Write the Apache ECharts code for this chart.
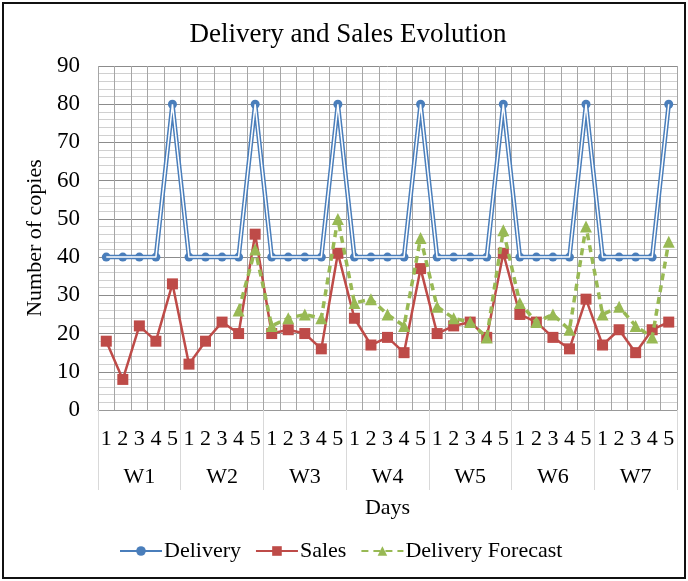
<!DOCTYPE html>
<html><head><meta charset="utf-8">
<script src="https://cdn.jsdelivr.net/npm/echarts@6/dist/echarts.min.js"></script>
<style>html,body{margin:0;padding:0;background:#fff}#c{width:688px;height:581px}</style>
</head><body><div id="c"></div>
<script>
const days = ['1','2','3','4','5','1','2','3','4','5','1','2','3','4','5','1','2','3','4','5','1','2','3','4','5','1','2','3','4','5','1','2','3','4','5'];
const weeks = ['W1','W2','W3','W4','W5','W6','W7'];
const delivery = [40,40,40,40,80, 40,40,40,40,80, 40,40,40,40,80, 40,40,40,40,80, 40,40,40,40,80, 40,40,40,40,80, 40,40,40,40,80];
const sales = [18,8,22,18,33, 12,18,23,20,46, 20,21,20,16,41, 24,17,19,15,37, 20,22,23,19,41, 25,23,19,16,29, 17,21,15,21,23];
const forecast = [null,null,null,null,null, null,null,null,26,42, 22,24,25,24,50, 28,29,25,22,45, 27,24,23,19,47, 28,23,25,21,48, 25,27,22,19,44];
const yTicks = [0,10,20,30,40,50,60,70,80,90];

const F = 'Liberation Serif, Times New Roman, serif';
const chart = echarts.init(document.getElementById('c'), null, {renderer:'canvas'});
chart.setOption({
  animation:false,
  backgroundColor:'#fff',
  textStyle:{fontFamily:F},
  graphic:[{type:'rect',shape:{x:3,y:3,width:682,height:575},style:{fill:'none',stroke:'#111',lineWidth:2},z:100}],
  title:{text:'Delivery and Sales Evolution',left:343,textAlign:'center',top:16,textStyle:{fontFamily:F,fontSize:27,fontWeight:'normal',color:'#000'}},
  legend:{bottom:14,left:114,itemGap:14,itemWidth:42,itemHeight:12,data:['Delivery','Sales','Delivery Forecast'],textStyle:{fontFamily:F,fontSize:22,color:'#000',padding:[0,0,0,-3]}},
  grid:{left:98,right:11,top:66,bottom:171,containLabel:false},
  xAxis:[
    {type:'category',data:days,boundaryGap:true,position:'bottom',
     axisLine:{show:true,lineStyle:{color:'#999',width:1}},
     axisTick:{show:false},
     axisLabel:{interval:0,margin:18,fontFamily:F,fontSize:22,color:'#000'},
     splitLine:{show:true,interval:0,lineStyle:{color:'#a6a6a6',width:1}}},
    {type:'category',data:weeks,boundaryGap:true,position:'bottom',
     axisLine:{show:false},
     axisTick:{show:true,length:80,lineStyle:{color:'#d9d9d9',width:1}},
     axisLabel:{interval:0,margin:56,fontFamily:F,fontSize:22,color:'#000'},
     name:'Days',nameLocation:'middle',nameGap:87,nameTextStyle:{fontFamily:F,fontSize:22,color:'#000'}}
  ],
  yAxis:{type:'value',min:0,max:90,interval:10,
    name:'Number of copies',nameLocation:'middle',nameGap:47,nameTextStyle:{fontFamily:F,fontSize:22,color:'#000'},
    axisLine:{show:false},axisTick:{show:false},
    axisLabel:{margin:18,fontFamily:F,fontSize:23,color:'#000',formatter:v=>yTicks.includes(v)?String(v):''},
    splitLine:{show:true,lineStyle:{color:'#8c8c8c',width:1}},
    minorTick:{show:false,splitNumber:5},
    minorSplitLine:{show:true,lineStyle:{color:'#d0d0d0',width:1}}},
  series:[
    {name:'Delivery',type:'line',data:delivery,xAxisIndex:0,symbol:'circle',symbolSize:9,
     itemStyle:{color:'#4A7EBB'},lineStyle:{color:'#4A7EBB',width:4.5},z:2},
    {name:'DeliveryInner',type:'line',data:delivery,xAxisIndex:0,symbol:'none',
     lineStyle:{color:'#ffffff',width:1.5},z:3,silent:true,legendHoverLink:false},
    {name:'Sales',type:'line',data:sales,xAxisIndex:0,symbol:'rect',symbolSize:11,
     itemStyle:{color:'#BE4B48'},lineStyle:{color:'#BE4B48',width:2.5},z:4},
    {name:'Delivery Forecast',type:'line',data:forecast,xAxisIndex:0,symbol:'triangle',symbolSize:12,connectNulls:false,
     itemStyle:{color:'#98B954'},lineStyle:{color:'#98B954',width:3.5,type:[7,5]},z:5}
  ]
});
</script></body></html>
